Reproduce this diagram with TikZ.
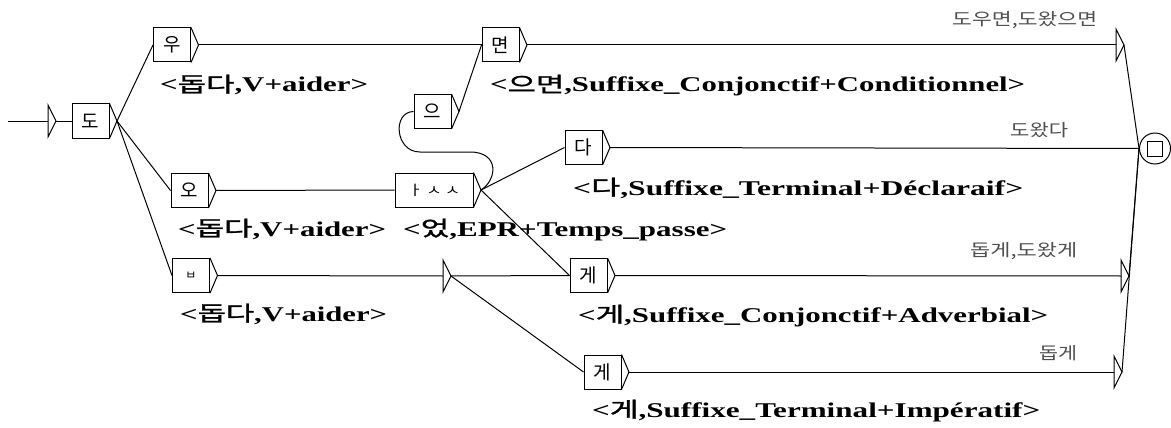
\documentclass[tikz,border=0pt]{standalone}
\usepackage{fontspec}
\setmainfont{Liberation Serif}
\newfontfamily\krf{Noto Sans CJK KR}
\newfontfamily\krl[FakeBold=1.2]{Noto Sans CJK KR}
\definecolor{outgray}{HTML}{505050}
\newcommand\lb[2]{\resizebox{#1pt}{\height}{#2}}
\newcommand\kk[1]{{\krl\mdseries #1}}
\newcommand\tri[3]{%
  \coordinate (#1-i) at (#2,#3);
  \coordinate (#1-o) at (#2+8,#3);
  \draw[wire] (#2,#3-16) -- (#1-o) -- (#2,#3+16) -- cycle;}
\begin{document}
\begin{tikzpicture}[x=1pt,y=-1pt,
  wire/.style={line width=1pt,black},
  stbox/.style={draw,line width=1pt,minimum width=37pt,minimum height=34pt,inner sep=0pt,font=\krf\fontsize{19}{21}\selectfont},
  lab/.style={anchor=base west,inner sep=0pt,font=\fontsize{21}{23}\selectfont\bfseries},
  outtxt/.style={anchor=west,inner sep=0pt,text=outgray,font=\krf\fontsize{17}{19}\selectfont}]
\useasboundingbox (0,0) rectangle (1171,428);
\fill[white] (0,0) rectangle (1171,428);

% boxes
\node[stbox] (d0) at (90.5,121) {도};
\node[stbox] (u) at (172,45) {우};
\node[stbox] (o) at (189.5,190.5) {오};
\node[stbox,font=\krf\fontsize{12}{13}\selectfont] (b) at (191,275.5) {ㅂ};
\node[stbox] (myeon) at (500.5,45) {면};
\node[stbox] (eu) at (432.5,111.5) {으};
\node[stbox,minimum width=78pt] (ass) at (434,190) {\resizebox{52pt}{\height}{\krf\fontsize{14}{15}\selectfont ㅏ ㅅ ㅅ}};
\node[stbox] (da) at (583.5,147.5) {다};
\node[stbox] (ge1) at (588.5,275.5) {게};
\node[stbox] (ge2) at (602.5,372) {게};
\foreach \n in {d0,u,o,b,myeon,eu,ass,da,ge1,ge2}{
  \draw[wire] (\n.north east) -- ([xshift=7.5pt]\n.east) coordinate (\n-o) -- (\n.south east);
}

% final state
\node[circle,draw,line width=1pt,minimum size=31pt,inner sep=0pt,
  path picture={\draw[line width=1pt] ([xshift=-7.5pt,yshift=-7.5pt]path picture bounding box.center) rectangle ([xshift=7.5pt,yshift=7.5pt]path picture bounding box.center);}] (fin) at (1155,148.5) {};

% triangles
\tri{it}{48}{121}
\tri{eps}{443}{276}
\tri{oa}{1116}{45}
\tri{ob}{1121}{276}
\tri{oc}{1114}{372}
\coordinate (start) at (8,121);

% connectors
\draw[wire] (start) -- (it-i);
\draw[wire] (it-o) -- (d0.west);
\draw[wire] (d0-o) -- (u.west);
\draw[wire] (d0-o) -- (o.west);
\draw[wire] (d0-o) -- (b.west);
\draw[wire] (u-o) -- (myeon.west);
\draw[wire] (o-o) -- (ass.west);
\draw[wire] (eu-o) -- (myeon.west);
\draw[wire] (ass-o) -- (da.west);
\draw[wire] (ass-o) -- (ge1.west);
\draw[wire] (ass-o) .. controls (497,180) and (500,152) .. (470,152) -- (420,152) .. controls (395,152) and (392,112) .. (eu.west);
\draw[wire] (b-o) -- (eps-i);
\draw[wire] (eps-o) -- (ge1.west);
\draw[wire] (eps-o) -- (ge2.west);
\draw[wire] (myeon-o) -- (oa-i);
\draw[wire] (da-o) -- (fin.west);
\draw[wire] (ge1-o) -- (ob-i);
\draw[wire] (ge2-o) -- (oc-i);
\draw[wire] (oa-o) -- (fin.west);
\draw[wire] (ob-o) -- (fin.west);
\draw[wire] (oc-o) -- (fin.west);

% labels
\node[lab] (l1) at (160,92) {\lb{208}{<\kk{돕다},V+aider>}};
\node[lab] (l2) at (178,236) {\lb{208}{<\kk{돕다},V+aider>}};
\node[lab] (l3) at (180,321) {\lb{207}{<\kk{돕다},V+aider>}};
\node[lab] (l4) at (490,92) {\lb{535}{<\kk{으면},Suffixe\_Conjonctif+Conditionnel>}};
\node[lab] (l5) at (403,236) {\lb{324}{<\kk{었},EPR+Temps\_passe>}};
\node[lab] (l6) at (573,195) {\lb{450}{<\kk{다},Suffixe\_Terminal+Déclaraif>}};
\node[lab] (l7) at (578,322) {\lb{470}{<\kk{게},Suffixe\_Conjonctif+Adverbial>}};
\node[lab] (l8) at (592,417) {\lb{448}{<\kk{게},Suffixe\_Terminal+Impératif>}};

% outputs
\node[outtxt] (t1) at (952,20) {\lb{145}{도우면,도왔으면}};
\node[outtxt] (t2) at (1010,130) {\lb{58}{도왔다}};
\node[outtxt] (t3) at (970,251) {\lb{107}{돕게,도왔게}};
\node[outtxt] (t4) at (1039,353) {\lb{38}{돕게}};
\end{tikzpicture}
\end{document}
